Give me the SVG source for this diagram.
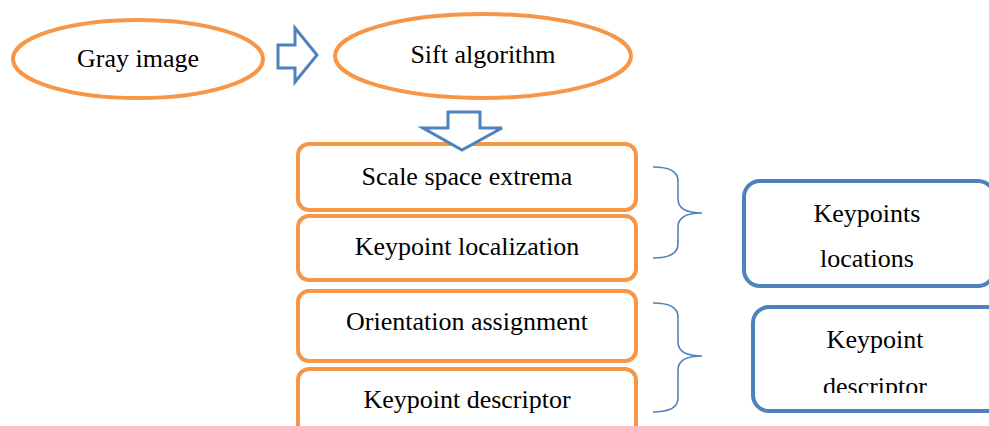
<svg xmlns="http://www.w3.org/2000/svg" width="989" height="426" viewBox="0 0 989 426">
<style>
.orange{fill:#fff;stroke:#f79646;stroke-width:4}
.blue{fill:#fff;stroke:#4f81bd;stroke-width:4}
.arrow{fill:#fff;stroke:#4f81bd;stroke-width:3;stroke-linejoin:miter}
.brace{fill:none;stroke:#4f81bd;stroke-width:1.6}
text{font-family:"Liberation Serif","Times New Roman",serif;font-size:26px;fill:#000;text-anchor:middle}
</style>
<defs>
<clipPath id="clipB"><rect x="740" y="300" width="260" height="93"/></clipPath>
</defs>
<rect width="989" height="426" fill="#fff"/>
<g id="gray-image">
<ellipse class="orange" cx="138" cy="59" rx="125" ry="39"/>
<text x="138" y="67">Gray image</text>
</g>
<g id="sift-algorithm">
<ellipse class="orange" cx="483" cy="56" rx="148" ry="42"/>
<text x="483" y="63">Sift algorithm</text>
</g>
<g id="scale-space-extrema">
<rect class="orange" x="298" y="144" width="338" height="66" rx="11"/>
<text x="467" y="185">Scale space extrema</text>
</g>
<g id="keypoint-localization">
<rect class="orange" x="298" y="216" width="338" height="64" rx="11"/>
<text x="467" y="255">Keypoint localization</text>
</g>
<g id="orientation-assignment">
<rect class="orange" x="298" y="291" width="338" height="70" rx="11"/>
<text x="467" y="330">Orientation assignment</text>
</g>
<g id="keypoint-descriptor">
<rect class="orange" x="298" y="369" width="338" height="80" rx="11"/>
<text x="467" y="408">Keypoint descriptor</text>
</g>
<g id="keypoints-locations">
<rect class="blue" x="744" y="181" width="250" height="105" rx="16"/>
<text x="867" y="222">Keypoints</text>
<text x="867" y="267">locations</text>
</g>
<g id="keypoint-descriptor-out">
<rect class="blue" x="753" y="307" width="250" height="104" rx="16"/>
<text x="875" y="348">Keypoint</text>
<text x="875" y="395" clip-path="url(#clipB)">descriptor</text>
</g>
<g id="connectors">
<path class="arrow" d="M278,45 L295,45 L295,28 L317,55 L295,82 L295,68 L278,68 Z"/>
<path class="arrow" d="M448,112 L480,112 L480,128 L502,128 L462,150 L423,128 L448,128 Z"/>
<path class="brace" d="M653,167 Q678,167 678,181 L678,199 Q678,213 702,213 Q678,213 678,227 L678,244 Q678,258 653,258"/>
<path class="brace" d="M653,303 Q678,303 678,317 L678,342 Q678,356 702,356 Q678,356 678,370 L678,398 Q678,412 653,412"/>
</g>
</svg>
